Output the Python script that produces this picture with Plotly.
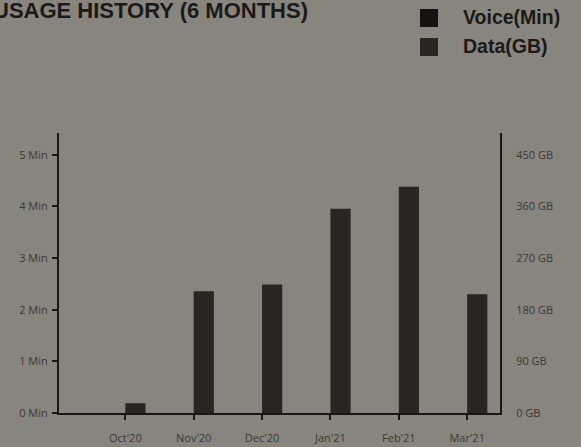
import plotly.graph_objects as go

months = ["Oct'20", "Nov'20", "Dec'20", "Jan'21", "Feb'21", "Mar'21"]
voice_min = [0, 0, 0, 0, 0, 0]
data_gb = [17, 212, 224, 356, 394, 207]
left_ticks = [0, 1, 2, 3, 4, 5]
left_labels = ["0 Min", "1 Min", "2 Min", "3 Min", "4 Min", "5 Min"]
right_ticks = [0, 90, 180, 270, 360, 450]
right_labels = ["0 GB", "90 GB", "180 GB", "270 GB", "360 GB", "450 GB"]
series_names = ["Voice(Min)", "Data(GB)"]
series_colors = ["#151311", "#282522"]

W, H = 581, 447
ml, mr, mt, mb = 59, 81, 133, 34
pw, ph = W - ml - mr, H - mt - mb
BG = "#88847e"

fig = go.Figure()
fig.add_trace(go.Bar(x=months, y=voice_min, name=series_names[0],
                     marker=dict(color=series_colors[0], line=dict(width=0)),
                     offsetgroup="v", yaxis="y"))
fig.add_trace(go.Bar(x=months, y=data_gb, name=series_names[1],
                     marker=dict(color=series_colors[1], line=dict(width=0)),
                     offsetgroup="d", yaxis="y2"))

tickfont = dict(family="Open Sans", size=11, color="#3d3935")
fig.update_layout(
    width=W, height=H,
    margin=dict(l=ml, r=mr, t=mt, b=mb, autoexpand=False),
    paper_bgcolor=BG, plot_bgcolor="rgba(0,0,0,0)",
    barmode="group", bargap=0.41, bargroupgap=0,
    showlegend=False,
    xaxis=dict(range=[-0.97, 5.48], showline=True, linecolor="#1a1816", linewidth=2,
               ticks="outside", ticklen=5, tickcolor="#1a1816", tickwidth=1.5,
               showgrid=False, zeroline=False, tickfont=tickfont, ticklabelstandoff=9,
               automargin=False),
    yaxis=dict(range=[0, 5.42], tickvals=left_ticks, ticktext=left_labels,
               showline=True, linecolor="#1a1816", linewidth=2,
               ticks="outside", ticklen=5, tickcolor="#1a1816", tickwidth=1.5,
               showgrid=False, zeroline=False, tickfont=tickfont, ticklabelstandoff=2,
               automargin=False),
    yaxis2=dict(range=[0, 5.42 * 90], tickvals=right_ticks, ticktext=right_labels,
                overlaying="y", side="right", showline=True, linecolor="#1a1816",
                linewidth=2, ticks="", showgrid=False, zeroline=False,
                tickfont=tickfont, ticklabelstandoff=12, automargin=False),
)

def px_to_x(px):
    return (px - ml) / pw

def py_to_y(py):
    return 1 - (py - mt) / ph

fig.add_annotation(text="<b>USAGE HISTORY (6 MONTHS)</b>", xref="paper", yref="paper",
                   x=px_to_x(-9), y=py_to_y(-4), xanchor="left", yanchor="top",
                   showarrow=False,
                   font=dict(family="Liberation Sans, Arial", size=22, color="#1c1a18"))

legend_y = [18, 47]
for name, col, cy in zip(series_names, series_colors, legend_y):
    fig.add_shape(type="rect", xref="paper", yref="paper",
                  x0=px_to_x(420), x1=px_to_x(438),
                  y0=py_to_y(cy - 9), y1=py_to_y(cy + 9),
                  fillcolor=col, line=dict(width=0))
    fig.add_annotation(text="<b>" + name + "</b>", xref="paper", yref="paper",
                       x=px_to_x(461), y=py_to_y(cy - 1), xanchor="left", yanchor="middle",
                       showarrow=False,
                       font=dict(family="Liberation Sans, Arial", size=19.5, color="#1c1a18"))

fig.write_html("out.html", config={"displayModeBar": False},
               post_script="document.body.style.margin='0';document.body.style.background='%s';" % BG)
